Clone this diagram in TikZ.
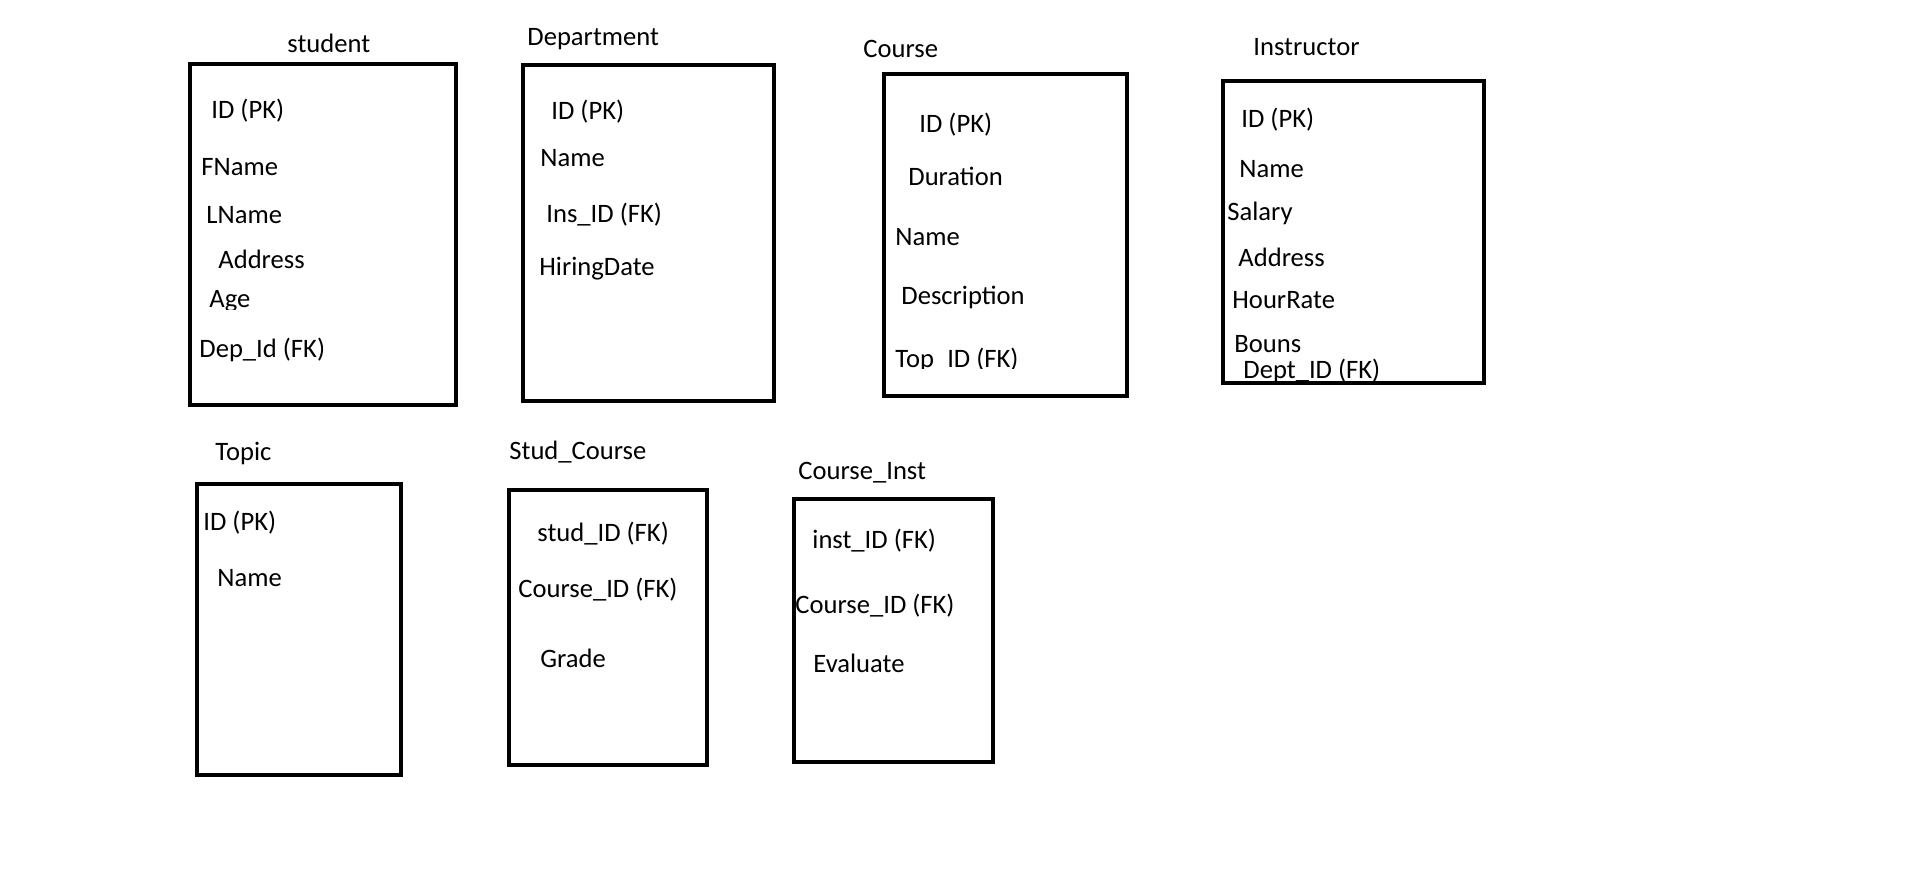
\documentclass[tikz,border=0pt]{standalone}
\usepackage{fontspec}
\setmainfont{Carlito}
\begin{document}
\begin{tikzpicture}[x=0.5pt,y=-0.5pt,
   tbl/.style={line width=2.3pt},
   fld/.style={anchor=base west,inner sep=0pt,font=\fontsize{13.3}{15}\selectfont}]
   \useasboundingbox (0,0) rectangle (1914,880);
   \fill[white] (0,0) rectangle (1914,880);

   % student
   \node[fld] (stuT) at (287,52) {student};
   \node[fld] (stuID) at (211,118) {ID (PK)};
   \node[fld] (stuFN) at (201,175) {FName};
   \node[fld] (stuLN) at (206,223) {LName};
   \node[fld] (stuAd) at (218,268) {Address};
   \begin{scope}
      \clip (200,280) rectangle (300,309);
      \node[fld] (stuAge) at (209,307) {Age};
   \end{scope}
   \node[fld] (stuDep) at (199,357) {Dep\_Id (FK)};
   \draw[tbl] (190,64) rectangle (456,405);

   % Department
   \node[fld] (depT) at (527,45) {Department};
   \node[fld] (depID) at (551,119) {ID (PK)};
   \node[fld] (depNm) at (540,166) {Name};
   \node[fld] (depIns) at (546,222) {Ins\_ID (FK)};
   \node[fld] (depHD) at (539,275) {HiringDate};
   \draw[tbl] (523,65) rectangle (774,401);

   % Course
   \node[fld] (crsT) at (863,57) {Course};
   \node[fld] (crsID) at (919,132) {ID (PK)};
   \node[fld] (crsDu) at (908,185) {Duration};
   \node[fld] (crsNm) at (895,245) {Name};
   \node[fld] (crsDe) at (901,304) {Description};
   \begin{scope}
      \clip (890,335) rectangle (1100,368);
      \node[fld] (crsTop) at (895,367) {Top\_ID (FK)};
   \end{scope}
   \draw[tbl] (884,74) rectangle (1127,396);

   % Instructor
   \node[fld] (insT) at (1253,55) {Instructor};
   \node[fld] (insID) at (1241,127) {ID (PK)};
   \node[fld] (insNm) at (1239,177) {Name};
   \node[fld] (insSa) at (1227,220) {Salary};
   \node[fld] (insAd) at (1238,266) {Address};
   \node[fld] (insHR) at (1232,308) {HourRate};
   \node[fld] (insBo) at (1234,352) {Bouns};
   \node[fld] (insDep) at (1243,378) {Dept\_ID (FK)};
   \draw[tbl] (1223,81) rectangle (1484,383);

   % Topic
   \node[fld] (topT) at (215,460) {Topic};
   \node[fld] (topID) at (203,530) {ID (PK)};
   \node[fld] (topNm) at (217,586) {Name};
   \draw[tbl] (197,484) rectangle (401,775);

   % Stud_Course
   \node[fld] (scT) at (509,459) {Stud\_Course};
   \node[fld] (scStu) at (537,541) {stud\_ID (FK)};
   \node[fld] (scCrs) at (518,597) {Course\_ID (FK)};
   \node[fld] (scGr) at (540,667) {Grade};
   \draw[tbl] (509,490) rectangle (707,765);

   % Course_Inst
   \node[fld] (ciT) at (798,479) {Course\_Inst};
   \node[fld] (ciIns) at (812,548) {inst\_ID (FK)};
   \node[fld] (ciCrs) at (795,613) {Course\_ID (FK)};
   \node[fld] (ciEv) at (813,672) {Evaluate};
   \draw[tbl] (794,499) rectangle (993,762);
\end{tikzpicture}
\end{document}
